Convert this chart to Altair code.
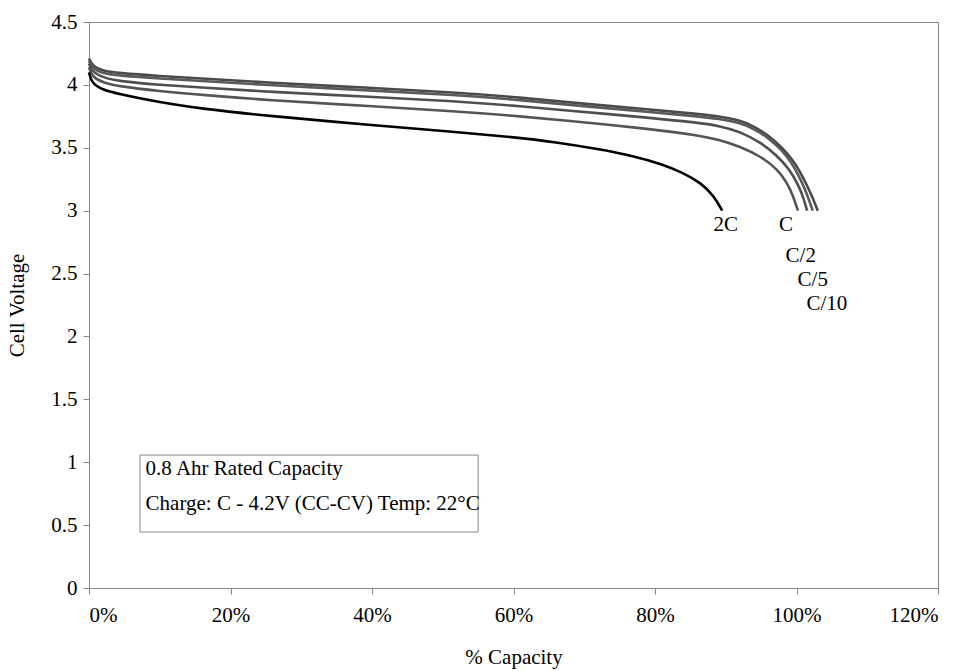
import altair as alt
import pandas as pd

# % capacity and voltage, one pair of lists per discharge rate
x_c10 = [0, 0.5, 2, 4, 10, 16, 25, 40, 52, 60, 67, 80, 86, 89, 92, 94, 96, 98, 99.5, 100.5, 101.5, 102.3, 103]
v_c10 = [4.21, 4.15, 4.11, 4.095, 4.07, 4.05, 4.02, 3.975, 3.94, 3.905, 3.865, 3.80, 3.77, 3.75, 3.72, 3.67, 3.60, 3.50, 3.40, 3.31, 3.20, 3.10, 3.0]

x_c5 = [0, 0.5, 2, 4, 10, 16, 25, 40, 52, 60, 67, 80, 86, 89, 92, 94, 96, 98, 99.3, 100.3, 101.2, 101.8, 102.3]
v_c5 = [4.19, 4.13, 4.09, 4.075, 4.05, 4.03, 4.00, 3.955, 3.92, 3.885, 3.845, 3.78, 3.75, 3.73, 3.70, 3.65, 3.58, 3.48, 3.38, 3.28, 3.17, 3.08, 3.0]

x_c2 = [0, 0.5, 2, 4, 10, 16, 25, 40, 52, 60, 67, 80, 86, 89, 92, 95, 97.2, 99, 100.3, 101, 101.5]
v_c2 = [4.17, 4.10, 4.06, 4.03, 4.00, 3.98, 3.945, 3.905, 3.87, 3.835, 3.80, 3.735, 3.70, 3.675, 3.63, 3.54, 3.44, 3.33, 3.20, 3.10, 3.0]

x_c1 = [0, 0.5, 2, 4, 10, 16, 25, 40, 52, 60, 67, 80, 86, 89, 92, 95, 97.3, 98.7, 99.5, 100.2]
v_c1 = [4.14, 4.06, 4.02, 3.99, 3.95, 3.92, 3.88, 3.83, 3.79, 3.755, 3.72, 3.645, 3.60, 3.565, 3.51, 3.43, 3.33, 3.22, 3.12, 3.0]

x_2c = [0, 0.4, 2, 4, 10, 16, 25, 40, 52, 60, 66, 72, 77, 81, 84, 86.5, 88.3, 89.5]
v_2c = [4.10, 4.01, 3.96, 3.93, 3.86, 3.81, 3.755, 3.68, 3.625, 3.585, 3.545, 3.49, 3.435, 3.37, 3.30, 3.22, 3.12, 3.0]

series_names = ["C/10", "C/5", "C/2", "C", "2C"]
series_x = [x_c10, x_c5, x_c2, x_c1, x_2c]
series_v = [v_c10, v_c5, v_c2, v_c1, v_2c]
series_colors = ["#4a4a4a", "#5a5a5a", "#4f4f4f", "#555555", "#000000"]

# curve labels
label_text = ["2C", "C", "C/2", "C/5", "C/10"]
label_x = [90.0, 98.5, 100.6, 102.3, 104.3]
label_y = [2.885, 2.885, 2.64, 2.45, 2.26]

# annotation box
box_lines = ["0.8 Ahr Rated Capacity", "Charge: C - 4.2V (CC-CV) Temp: 22°C"]

x_ticks = [0, 20, 40, 60, 80, 100, 120]
y_ticks = [0, 0.5, 1, 1.5, 2, 2.5, 3, 3.5, 4, 4.5]

rows = []
for n, xs, vs in zip(series_names, series_x, series_v):
    for i, (a, b) in enumerate(zip(xs, vs)):
        rows.append({"rate": n, "cap": a, "volt": b, "i": i})
df = pd.DataFrame(rows)

FONT = "Liberation Serif"
FS = 21
xscale = alt.Scale(domain=[0, 120], nice=False, zero=False)
yscale = alt.Scale(domain=[0, 4.5], nice=False, zero=False)

xax = alt.Axis(values=x_ticks, labelExpr="datum.value + '%'", grid=False,
               labelFont=FONT, labelFontSize=FS, labelColor="#000",
               titleFont=FONT, titleFontSize=FS, titleFontWeight="normal", titleColor="#000",
               domainColor="#888", tickColor="#888", tickSize=6,
               labelPadding=10, titlePadding=21)
yax = alt.Axis(values=y_ticks, labelExpr="'' + datum.value", grid=False,
               labelFont=FONT, labelFontSize=FS, labelColor="#000",
               titleFont=FONT, titleFontSize=FS, titleFontWeight="normal", titleColor="#000",
               domainColor="#888", tickColor="#888", tickSize=6,
               labelPadding=6, titlePadding=23)

lines = alt.Chart(df).mark_line(strokeWidth=2.6, interpolate="basis").encode(
    x=alt.X("cap:Q", scale=xscale, axis=xax, title="% Capacity"),
    y=alt.Y("volt:Q", scale=yscale, axis=yax, title="Cell Voltage"),
    color=alt.Color("rate:N", scale=alt.Scale(domain=series_names, range=series_colors), legend=None),
    detail="rate:N",
    order="i:Q",
)

lab_df = pd.DataFrame({"t": label_text, "x": label_x, "y": label_y})
labels = alt.Chart(lab_df).mark_text(font=FONT, fontSize=FS, color="#000", align="center", baseline="middle").encode(
    x=alt.X("x:Q", scale=xscale), y=alt.Y("y:Q", scale=yscale), text="t:N")

box_df = pd.DataFrame({"x": [7.2], "x2": [55.0], "y": [1.057], "y2": [0.445]})
box = alt.Chart(box_df).mark_rect(fill="white", stroke="#888", strokeWidth=1).encode(
    x=alt.X("x:Q", scale=xscale), x2="x2:Q", y=alt.Y("y:Q", scale=yscale), y2="y2:Q")

txt_df = pd.DataFrame({"t": box_lines, "x": [8.0, 8.0], "y": [0.946, 0.668]})
box_text = alt.Chart(txt_df).mark_text(font=FONT, fontSize=FS, color="#000", align="left", baseline="middle").encode(
    x=alt.X("x:Q", scale=xscale), y=alt.Y("y:Q", scale=yscale), text="t:N")

chart = alt.layer(lines, labels, box, box_text).properties(
    width=849, height=566,
    autosize=alt.AutoSizeParams(type="none"),
    padding={"left": 89, "top": 22, "right": 28, "bottom": 83},
    background="white",
).configure_view(stroke="#888", strokeWidth=1)

chart.save("out.html", embed_options={"renderer": "svg", "actions": False})
